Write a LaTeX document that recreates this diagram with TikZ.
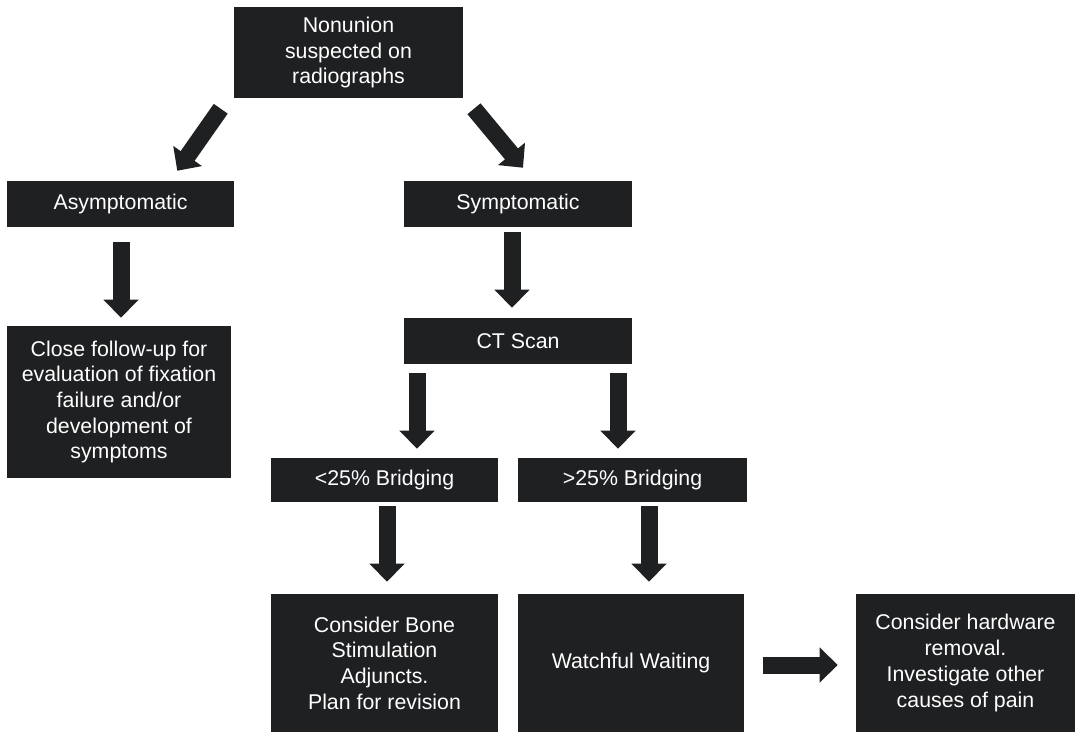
\documentclass[tikz,border=0pt]{standalone}
\usepackage{fontspec}
\setmainfont{Liberation Sans}
\usetikzlibrary{arrows.meta,calc}
\definecolor{boxcol}{RGB}{31,32,34}
\tikzset{
  box/.style={fill=boxcol, draw=none, text=white, align=center, inner sep=0pt,
    font=\fontsize{16}{19.3}\selectfont},
  wh/.style 2 args={minimum width=#1*0.75pt, minimum height=#2*0.75pt},
  barrow/.style={draw=boxcol, line width=12.75pt,
    -{Triangle[width=25.5pt,length=13.5pt]}},
}
\begin{document}
\begin{tikzpicture}[x=0.75pt,y=-0.75pt]
\useasboundingbox (0,0) rectangle (1075,732);
\node[box, wh={229}{91}] (top) at (348.5,52.5) {Nonunion\\suspected on\\radiographs};
\node[box, wh={227}{46}] (asym) at (120.5,204) {Asymptomatic};
\node[box, wh={228}{46}] (symp) at (518,204) {Symptomatic};
\node[box, wh={224}{152}] (follow) at (119,402) {Close follow-up for\\evaluation of fixation\\failure and/or\\development of\\symptoms};
\node[box, wh={228}{46}] (ct) at (518,341) {CT Scan};
\node[box, wh={227}{44}] (lt) at (384.5,480) {<25\% Bridging};
\node[box, wh={229}{44}] (gt) at (632.5,480) {>25\% Bridging};
\node[box, wh={227}{138}] (bone) at (384.5,663) {Consider Bone\\Stimulation\\Adjuncts.\\Plan for revision};
\node[box, wh={226}{138}] (watch) at (631,663) {Watchful Waiting};
\node[box, wh={219}{138}] (hw) at (965.5,663) {Consider hardware\\removal.\\Investigate other\\causes of pain};

\draw[barrow] ($(top.south west)+(-13,10.5)$) -- ($(asym.north east)+(-57,-10)$);
\draw[barrow] ($(top.south east)+(10.7,10.5)$) -- ($(symp.north)+(5,-13)$);
\draw[barrow] ($(asym.south)+(0.5,15)$) -- ($(follow.north)+(2,-8)$);
\draw[barrow] ($(symp.south)+(-6,5)$) -- ($(ct.north)+(-6,-10)$);
\draw[barrow] ($(ct.south)+(-101,9)$) -- ($(lt.north)+(32.5,-9)$);
\draw[barrow] ($(ct.south)+(100,9)$) -- ($(gt.north)+(-14.5,-9)$);
\draw[barrow] ($(lt.south)+(2.5,4)$) -- ($(bone.north)+(2.5,-12)$);
\draw[barrow] ($(gt.south)+(16.5,4)$) -- ($(watch.north)+(18,-12)$);
\draw[barrow] ($(watch.east)+(19,2)$) -- ($(hw.west)+(-18,2)$);
\end{tikzpicture}
\end{document}
